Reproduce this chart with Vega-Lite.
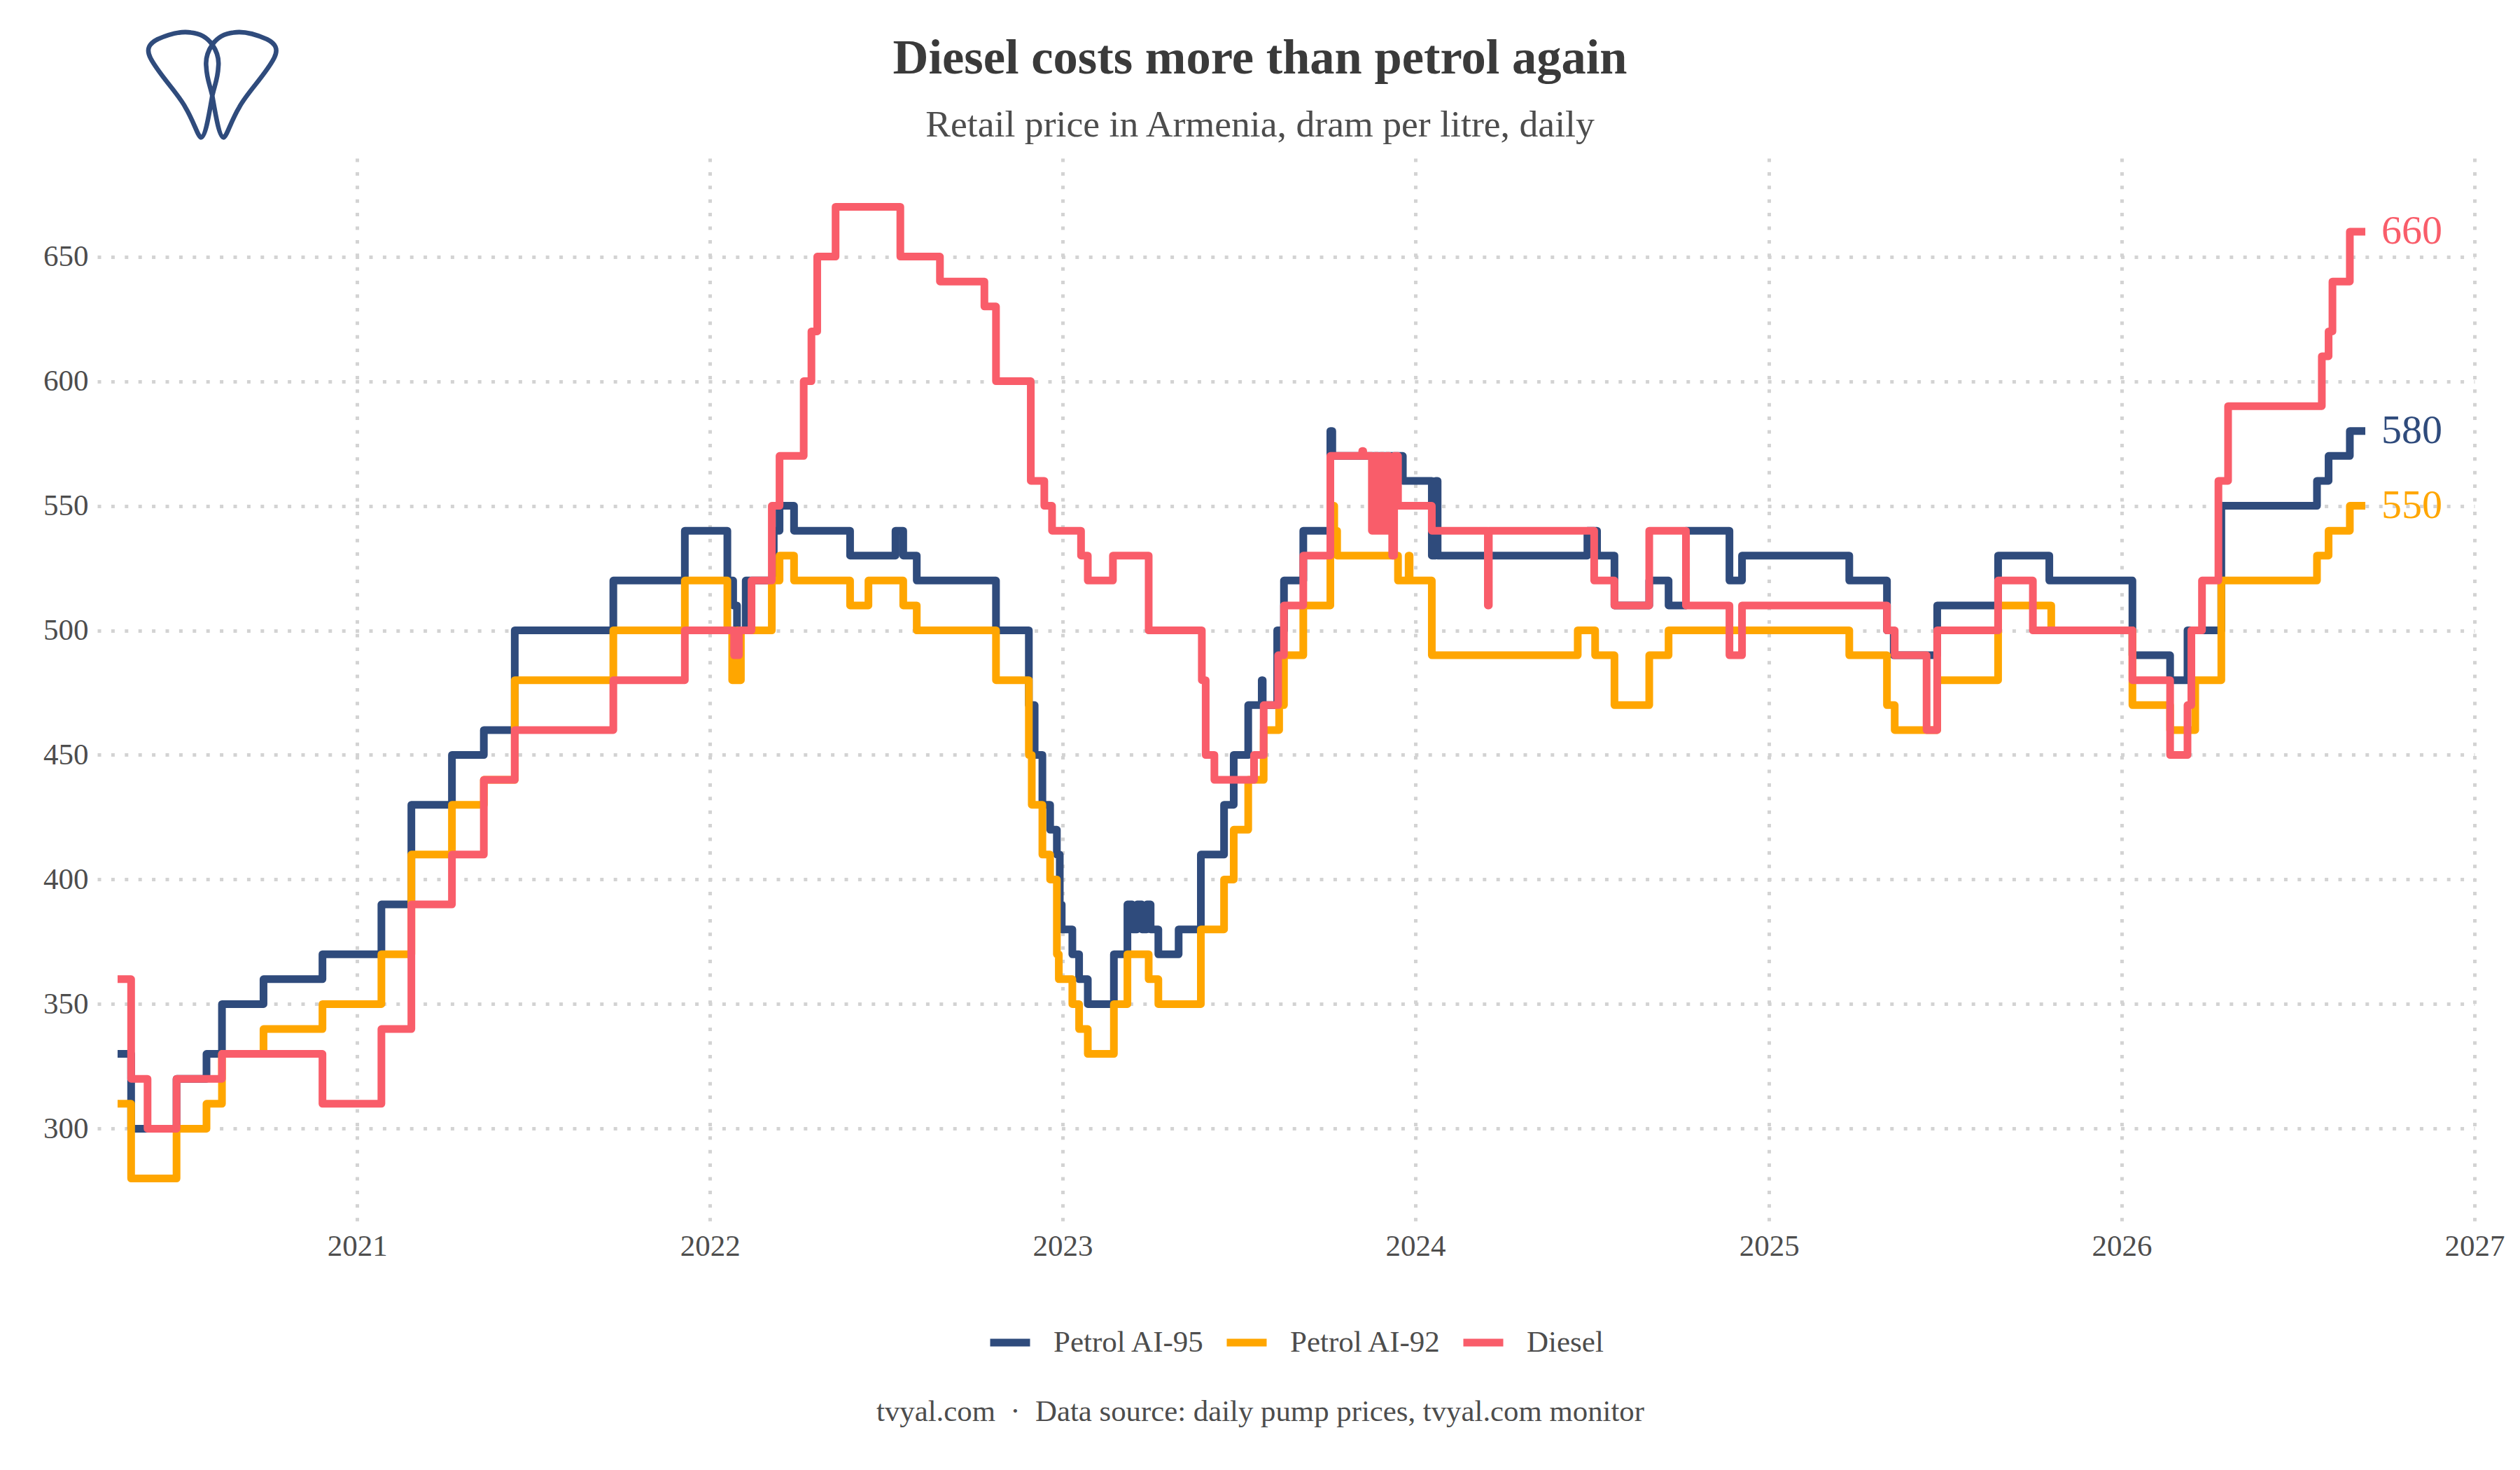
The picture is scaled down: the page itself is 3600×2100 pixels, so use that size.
{
  "$schema": "https://vega.github.io/schema/vega-lite/v6.json",
  "autosize": "none",
  "width": 3396,
  "height": 1527,
  "padding": {"left": 139, "top": 226, "right": 65, "bottom": 347},
  "background": "white",
  "title": {
    "text": "Diesel costs more than petrol again",
    "subtitle": "Retail price in Armenia, dram per litre, daily",
    "anchor": "middle",
    "frame": "group",
    "dx": -37,
    "offset": -173,
    "font": "Liberation Serif",
    "fontSize": 70.5,
    "fontWeight": "bold",
    "color": "#3a3a3a",
    "subtitleFont": "Liberation Serif",
    "subtitleFontSize": 53.7,
    "subtitleColor": "#4d4d4d",
    "subtitlePadding": 33
  },
  "config": {
    "view": {"stroke": null},
    "axis": {
      "domain": false,
      "ticks": false,
      "grid": true,
      "gridColor": "#d3d3d3",
      "gridWidth": 5,
      "gridDash": [5, 14.4],
      "labelFont": "Liberation Serif",
      "labelFontSize": 43,
      "labelColor": "#4d4d4d"
    }
  },
  "data": {
    "values": [
      {"date": "2020-04-28", "fuel": "Petrol AI-95", "price": 330},
      {"date": "2020-05-12", "fuel": "Petrol AI-95", "price": 300},
      {"date": "2020-06-28", "fuel": "Petrol AI-95", "price": 320},
      {"date": "2020-07-29", "fuel": "Petrol AI-95", "price": 330},
      {"date": "2020-08-14", "fuel": "Petrol AI-95", "price": 350},
      {"date": "2020-09-26", "fuel": "Petrol AI-95", "price": 360},
      {"date": "2020-11-26", "fuel": "Petrol AI-95", "price": 370},
      {"date": "2021-01-26", "fuel": "Petrol AI-95", "price": 390},
      {"date": "2021-02-26", "fuel": "Petrol AI-95", "price": 430},
      {"date": "2021-04-09", "fuel": "Petrol AI-95", "price": 450},
      {"date": "2021-05-12", "fuel": "Petrol AI-95", "price": 460},
      {"date": "2021-06-13", "fuel": "Petrol AI-95", "price": 500},
      {"date": "2021-09-23", "fuel": "Petrol AI-95", "price": 520},
      {"date": "2021-12-06", "fuel": "Petrol AI-95", "price": 540},
      {"date": "2022-01-19", "fuel": "Petrol AI-95", "price": 520},
      {"date": "2022-01-25", "fuel": "Petrol AI-95", "price": 510},
      {"date": "2022-01-29", "fuel": "Petrol AI-95", "price": 500},
      {"date": "2022-02-07", "fuel": "Petrol AI-95", "price": 520},
      {"date": "2022-03-08", "fuel": "Petrol AI-95", "price": 540},
      {"date": "2022-03-14", "fuel": "Petrol AI-95", "price": 550},
      {"date": "2022-03-29", "fuel": "Petrol AI-95", "price": 540},
      {"date": "2022-05-26", "fuel": "Petrol AI-95", "price": 530},
      {"date": "2022-07-12", "fuel": "Petrol AI-95", "price": 540},
      {"date": "2022-07-20", "fuel": "Petrol AI-95", "price": 530},
      {"date": "2022-08-03", "fuel": "Petrol AI-95", "price": 520},
      {"date": "2022-10-24", "fuel": "Petrol AI-95", "price": 500},
      {"date": "2022-11-27", "fuel": "Petrol AI-95", "price": 470},
      {"date": "2022-12-03", "fuel": "Petrol AI-95", "price": 450},
      {"date": "2022-12-11", "fuel": "Petrol AI-95", "price": 430},
      {"date": "2022-12-19", "fuel": "Petrol AI-95", "price": 420},
      {"date": "2022-12-26", "fuel": "Petrol AI-95", "price": 410},
      {"date": "2022-12-29", "fuel": "Petrol AI-95", "price": 390},
      {"date": "2022-12-31", "fuel": "Petrol AI-95", "price": 380},
      {"date": "2023-01-11", "fuel": "Petrol AI-95", "price": 370},
      {"date": "2023-01-18", "fuel": "Petrol AI-95", "price": 360},
      {"date": "2023-01-27", "fuel": "Petrol AI-95", "price": 350},
      {"date": "2023-02-23", "fuel": "Petrol AI-95", "price": 370},
      {"date": "2023-03-09", "fuel": "Petrol AI-95", "price": 390},
      {"date": "2023-03-14", "fuel": "Petrol AI-95", "price": 380},
      {"date": "2023-03-19", "fuel": "Petrol AI-95", "price": 390},
      {"date": "2023-03-24", "fuel": "Petrol AI-95", "price": 380},
      {"date": "2023-03-29", "fuel": "Petrol AI-95", "price": 390},
      {"date": "2023-04-02", "fuel": "Petrol AI-95", "price": 380},
      {"date": "2023-04-10", "fuel": "Petrol AI-95", "price": 370},
      {"date": "2023-05-01", "fuel": "Petrol AI-95", "price": 380},
      {"date": "2023-05-24", "fuel": "Petrol AI-95", "price": 410},
      {"date": "2023-06-17", "fuel": "Petrol AI-95", "price": 430},
      {"date": "2023-06-27", "fuel": "Petrol AI-95", "price": 450},
      {"date": "2023-07-12", "fuel": "Petrol AI-95", "price": 470},
      {"date": "2023-07-26", "fuel": "Petrol AI-95", "price": 480},
      {"date": "2023-07-27", "fuel": "Petrol AI-95", "price": 470},
      {"date": "2023-08-11", "fuel": "Petrol AI-95", "price": 500},
      {"date": "2023-08-18", "fuel": "Petrol AI-95", "price": 520},
      {"date": "2023-09-07", "fuel": "Petrol AI-95", "price": 540},
      {"date": "2023-10-05", "fuel": "Petrol AI-95", "price": 580},
      {"date": "2023-10-07", "fuel": "Petrol AI-95", "price": 570},
      {"date": "2023-12-19", "fuel": "Petrol AI-95", "price": 560},
      {"date": "2024-01-18", "fuel": "Petrol AI-95", "price": 530},
      {"date": "2024-01-22", "fuel": "Petrol AI-95", "price": 560},
      {"date": "2024-01-24", "fuel": "Petrol AI-95", "price": 530},
      {"date": "2024-06-27", "fuel": "Petrol AI-95", "price": 540},
      {"date": "2024-07-07", "fuel": "Petrol AI-95", "price": 530},
      {"date": "2024-07-25", "fuel": "Petrol AI-95", "price": 510},
      {"date": "2024-08-30", "fuel": "Petrol AI-95", "price": 520},
      {"date": "2024-09-19", "fuel": "Petrol AI-95", "price": 510},
      {"date": "2024-10-07", "fuel": "Petrol AI-95", "price": 540},
      {"date": "2024-11-21", "fuel": "Petrol AI-95", "price": 520},
      {"date": "2024-12-04", "fuel": "Petrol AI-95", "price": 530},
      {"date": "2025-03-25", "fuel": "Petrol AI-95", "price": 520},
      {"date": "2025-05-03", "fuel": "Petrol AI-95", "price": 500},
      {"date": "2025-05-10", "fuel": "Petrol AI-95", "price": 490},
      {"date": "2025-06-24", "fuel": "Petrol AI-95", "price": 510},
      {"date": "2025-08-26", "fuel": "Petrol AI-95", "price": 530},
      {"date": "2025-10-18", "fuel": "Petrol AI-95", "price": 520},
      {"date": "2026-01-12", "fuel": "Petrol AI-95", "price": 490},
      {"date": "2026-02-20", "fuel": "Petrol AI-95", "price": 480},
      {"date": "2026-03-10", "fuel": "Petrol AI-95", "price": 500},
      {"date": "2026-04-14", "fuel": "Petrol AI-95", "price": 550},
      {"date": "2026-07-22", "fuel": "Petrol AI-95", "price": 560},
      {"date": "2026-08-03", "fuel": "Petrol AI-95", "price": 570},
      {"date": "2026-08-25", "fuel": "Petrol AI-95", "price": 580},
      {"date": "2026-09-10", "fuel": "Petrol AI-95", "price": 580},

      {"date": "2020-04-28", "fuel": "Petrol AI-92", "price": 310},
      {"date": "2020-05-12", "fuel": "Petrol AI-92", "price": 280},
      {"date": "2020-06-28", "fuel": "Petrol AI-92", "price": 300},
      {"date": "2020-07-29", "fuel": "Petrol AI-92", "price": 310},
      {"date": "2020-08-14", "fuel": "Petrol AI-92", "price": 330},
      {"date": "2020-09-26", "fuel": "Petrol AI-92", "price": 340},
      {"date": "2020-11-26", "fuel": "Petrol AI-92", "price": 350},
      {"date": "2021-01-26", "fuel": "Petrol AI-92", "price": 370},
      {"date": "2021-02-26", "fuel": "Petrol AI-92", "price": 410},
      {"date": "2021-04-09", "fuel": "Petrol AI-92", "price": 430},
      {"date": "2021-05-12", "fuel": "Petrol AI-92", "price": 440},
      {"date": "2021-06-13", "fuel": "Petrol AI-92", "price": 480},
      {"date": "2021-09-23", "fuel": "Petrol AI-92", "price": 500},
      {"date": "2021-12-06", "fuel": "Petrol AI-92", "price": 520},
      {"date": "2022-01-19", "fuel": "Petrol AI-92", "price": 500},
      {"date": "2022-01-24", "fuel": "Petrol AI-92", "price": 480},
      {"date": "2022-01-29", "fuel": "Petrol AI-92", "price": 500},
      {"date": "2022-01-30", "fuel": "Petrol AI-92", "price": 480},
      {"date": "2022-02-02", "fuel": "Petrol AI-92", "price": 500},
      {"date": "2022-03-06", "fuel": "Petrol AI-92", "price": 520},
      {"date": "2022-03-14", "fuel": "Petrol AI-92", "price": 530},
      {"date": "2022-03-29", "fuel": "Petrol AI-92", "price": 520},
      {"date": "2022-05-26", "fuel": "Petrol AI-92", "price": 510},
      {"date": "2022-06-14", "fuel": "Petrol AI-92", "price": 520},
      {"date": "2022-07-20", "fuel": "Petrol AI-92", "price": 510},
      {"date": "2022-08-03", "fuel": "Petrol AI-92", "price": 500},
      {"date": "2022-10-24", "fuel": "Petrol AI-92", "price": 480},
      {"date": "2022-11-27", "fuel": "Petrol AI-92", "price": 450},
      {"date": "2022-11-30", "fuel": "Petrol AI-92", "price": 430},
      {"date": "2022-12-11", "fuel": "Petrol AI-92", "price": 410},
      {"date": "2022-12-19", "fuel": "Petrol AI-92", "price": 400},
      {"date": "2022-12-26", "fuel": "Petrol AI-92", "price": 370},
      {"date": "2022-12-28", "fuel": "Petrol AI-92", "price": 360},
      {"date": "2023-01-11", "fuel": "Petrol AI-92", "price": 350},
      {"date": "2023-01-18", "fuel": "Petrol AI-92", "price": 340},
      {"date": "2023-01-27", "fuel": "Petrol AI-92", "price": 330},
      {"date": "2023-02-23", "fuel": "Petrol AI-92", "price": 350},
      {"date": "2023-03-09", "fuel": "Petrol AI-92", "price": 370},
      {"date": "2023-03-31", "fuel": "Petrol AI-92", "price": 360},
      {"date": "2023-04-10", "fuel": "Petrol AI-92", "price": 350},
      {"date": "2023-05-24", "fuel": "Petrol AI-92", "price": 380},
      {"date": "2023-06-17", "fuel": "Petrol AI-92", "price": 400},
      {"date": "2023-06-27", "fuel": "Petrol AI-92", "price": 420},
      {"date": "2023-07-12", "fuel": "Petrol AI-92", "price": 440},
      {"date": "2023-07-28", "fuel": "Petrol AI-92", "price": 460},
      {"date": "2023-08-13", "fuel": "Petrol AI-92", "price": 470},
      {"date": "2023-08-18", "fuel": "Petrol AI-92", "price": 490},
      {"date": "2023-09-07", "fuel": "Petrol AI-92", "price": 510},
      {"date": "2023-10-05", "fuel": "Petrol AI-92", "price": 550},
      {"date": "2023-10-09", "fuel": "Petrol AI-92", "price": 540},
      {"date": "2023-10-12", "fuel": "Petrol AI-92", "price": 530},
      {"date": "2023-12-14", "fuel": "Petrol AI-92", "price": 520},
      {"date": "2023-12-25", "fuel": "Petrol AI-92", "price": 530},
      {"date": "2023-12-26", "fuel": "Petrol AI-92", "price": 520},
      {"date": "2024-01-18", "fuel": "Petrol AI-92", "price": 490},
      {"date": "2024-06-17", "fuel": "Petrol AI-92", "price": 500},
      {"date": "2024-07-05", "fuel": "Petrol AI-92", "price": 490},
      {"date": "2024-07-25", "fuel": "Petrol AI-92", "price": 470},
      {"date": "2024-08-30", "fuel": "Petrol AI-92", "price": 490},
      {"date": "2024-09-19", "fuel": "Petrol AI-92", "price": 500},
      {"date": "2025-03-25", "fuel": "Petrol AI-92", "price": 490},
      {"date": "2025-05-03", "fuel": "Petrol AI-92", "price": 470},
      {"date": "2025-05-11", "fuel": "Petrol AI-92", "price": 460},
      {"date": "2025-06-24", "fuel": "Petrol AI-92", "price": 480},
      {"date": "2025-08-26", "fuel": "Petrol AI-92", "price": 510},
      {"date": "2025-10-20", "fuel": "Petrol AI-92", "price": 500},
      {"date": "2026-01-12", "fuel": "Petrol AI-92", "price": 470},
      {"date": "2026-02-20", "fuel": "Petrol AI-92", "price": 460},
      {"date": "2026-03-18", "fuel": "Petrol AI-92", "price": 480},
      {"date": "2026-04-14", "fuel": "Petrol AI-92", "price": 520},
      {"date": "2026-07-22", "fuel": "Petrol AI-92", "price": 530},
      {"date": "2026-08-03", "fuel": "Petrol AI-92", "price": 540},
      {"date": "2026-08-25", "fuel": "Petrol AI-92", "price": 550},
      {"date": "2026-09-10", "fuel": "Petrol AI-92", "price": 550},

      {"date": "2020-04-28", "fuel": "Diesel", "price": 360},
      {"date": "2020-05-12", "fuel": "Diesel", "price": 320},
      {"date": "2020-05-29", "fuel": "Diesel", "price": 300},
      {"date": "2020-06-28", "fuel": "Diesel", "price": 320},
      {"date": "2020-08-14", "fuel": "Diesel", "price": 330},
      {"date": "2020-11-26", "fuel": "Diesel", "price": 310},
      {"date": "2021-01-26", "fuel": "Diesel", "price": 340},
      {"date": "2021-02-26", "fuel": "Diesel", "price": 390},
      {"date": "2021-04-09", "fuel": "Diesel", "price": 410},
      {"date": "2021-05-12", "fuel": "Diesel", "price": 440},
      {"date": "2021-06-13", "fuel": "Diesel", "price": 460},
      {"date": "2021-09-23", "fuel": "Diesel", "price": 480},
      {"date": "2021-12-06", "fuel": "Diesel", "price": 500},
      {"date": "2022-01-26", "fuel": "Diesel", "price": 490},
      {"date": "2022-01-31", "fuel": "Diesel", "price": 500},
      {"date": "2022-02-13", "fuel": "Diesel", "price": 520},
      {"date": "2022-03-06", "fuel": "Diesel", "price": 550},
      {"date": "2022-03-14", "fuel": "Diesel", "price": 570},
      {"date": "2022-04-08", "fuel": "Diesel", "price": 600},
      {"date": "2022-04-16", "fuel": "Diesel", "price": 620},
      {"date": "2022-04-22", "fuel": "Diesel", "price": 650},
      {"date": "2022-05-11", "fuel": "Diesel", "price": 670},
      {"date": "2022-07-17", "fuel": "Diesel", "price": 650},
      {"date": "2022-08-27", "fuel": "Diesel", "price": 640},
      {"date": "2022-10-12", "fuel": "Diesel", "price": 630},
      {"date": "2022-10-24", "fuel": "Diesel", "price": 600},
      {"date": "2022-11-29", "fuel": "Diesel", "price": 560},
      {"date": "2022-12-13", "fuel": "Diesel", "price": 550},
      {"date": "2022-12-21", "fuel": "Diesel", "price": 540},
      {"date": "2023-01-20", "fuel": "Diesel", "price": 530},
      {"date": "2023-01-27", "fuel": "Diesel", "price": 520},
      {"date": "2023-02-22", "fuel": "Diesel", "price": 530},
      {"date": "2023-03-31", "fuel": "Diesel", "price": 500},
      {"date": "2023-05-25", "fuel": "Diesel", "price": 480},
      {"date": "2023-05-29", "fuel": "Diesel", "price": 450},
      {"date": "2023-06-07", "fuel": "Diesel", "price": 440},
      {"date": "2023-07-18", "fuel": "Diesel", "price": 450},
      {"date": "2023-07-28", "fuel": "Diesel", "price": 470},
      {"date": "2023-08-12", "fuel": "Diesel", "price": 490},
      {"date": "2023-08-18", "fuel": "Diesel", "price": 510},
      {"date": "2023-09-07", "fuel": "Diesel", "price": 530},
      {"date": "2023-10-05", "fuel": "Diesel", "price": 570},
      {"date": "2023-11-07", "fuel": "Diesel", "price": 572},
      {"date": "2023-11-08", "fuel": "Diesel", "price": 570},
      {"date": "2023-11-17", "fuel": "Diesel", "price": 540},
      {"date": "2023-11-20", "fuel": "Diesel", "price": 570},
      {"date": "2023-11-23", "fuel": "Diesel", "price": 540},
      {"date": "2023-11-26", "fuel": "Diesel", "price": 570},
      {"date": "2023-11-29", "fuel": "Diesel", "price": 540},
      {"date": "2023-12-02", "fuel": "Diesel", "price": 570},
      {"date": "2023-12-05", "fuel": "Diesel", "price": 540},
      {"date": "2023-12-08", "fuel": "Diesel", "price": 530},
      {"date": "2023-12-10", "fuel": "Diesel", "price": 570},
      {"date": "2023-12-14", "fuel": "Diesel", "price": 550},
      {"date": "2024-01-18", "fuel": "Diesel", "price": 540},
      {"date": "2024-03-16", "fuel": "Diesel", "price": 510},
      {"date": "2024-03-17", "fuel": "Diesel", "price": 540},
      {"date": "2024-07-04", "fuel": "Diesel", "price": 520},
      {"date": "2024-07-25", "fuel": "Diesel", "price": 510},
      {"date": "2024-08-30", "fuel": "Diesel", "price": 540},
      {"date": "2024-10-07", "fuel": "Diesel", "price": 510},
      {"date": "2024-11-21", "fuel": "Diesel", "price": 490},
      {"date": "2024-12-04", "fuel": "Diesel", "price": 510},
      {"date": "2025-05-03", "fuel": "Diesel", "price": 500},
      {"date": "2025-05-11", "fuel": "Diesel", "price": 490},
      {"date": "2025-06-13", "fuel": "Diesel", "price": 460},
      {"date": "2025-06-24", "fuel": "Diesel", "price": 500},
      {"date": "2025-08-26", "fuel": "Diesel", "price": 520},
      {"date": "2025-10-01", "fuel": "Diesel", "price": 500},
      {"date": "2026-01-12", "fuel": "Diesel", "price": 480},
      {"date": "2026-02-20", "fuel": "Diesel", "price": 450},
      {"date": "2026-03-10", "fuel": "Diesel", "price": 470},
      {"date": "2026-03-14", "fuel": "Diesel", "price": 500},
      {"date": "2026-03-25", "fuel": "Diesel", "price": 520},
      {"date": "2026-04-11", "fuel": "Diesel", "price": 560},
      {"date": "2026-04-21", "fuel": "Diesel", "price": 590},
      {"date": "2026-07-27", "fuel": "Diesel", "price": 610},
      {"date": "2026-08-03", "fuel": "Diesel", "price": 620},
      {"date": "2026-08-07", "fuel": "Diesel", "price": 640},
      {"date": "2026-08-25", "fuel": "Diesel", "price": 660},
      {"date": "2026-09-10", "fuel": "Diesel", "price": 660}
    ]
  },
  "encoding": {
    "x": {
      "field": "date",
      "type": "temporal",
      "scale": {"domain": ["2020-04-07", "2027-01-01"]},
      "axis": {
        "tickCount": {"interval": "year", "step": 1},
        "format": "%Y",
        "labelPadding": 6,
        "labelFlush": false,
        "title": "tvyal.com\u00a0\u00a0·\u00a0\u00a0Data source: daily pump prices, tvyal.com monitor",
        "titleFont": "Liberation Serif",
        "titleFontSize": 42.8,
        "titleFontWeight": "normal",
        "titleColor": "#4d4d4d",
        "titleX": 1661,
        "titleY": 263,
        "titleBaseline": "middle",
        "titleAnchor": "middle"
      }
    },
    "y": {
      "field": "price",
      "type": "quantitative",
      "scale": {"domain": [260.5, 689.5], "nice": false, "zero": false},
      "axis": {
        "values": [300, 350, 400, 450, 500, 550, 600, 650],
        "labelPadding": 13,
        "title": null
      }
    }
  },
  "layer": [
    {
      "mark": {
        "type": "line",
        "interpolate": "step-after",
        "strokeWidth": 11,
        "strokeJoin": "round",
        "strokeCap": "butt"
      },
      "encoding": {
        "color": {
          "field": "fuel",
          "type": "nominal",
          "scale": {
            "domain": ["Petrol AI-95", "Petrol AI-92", "Diesel"],
            "range": ["#2f4b7c", "#ffa600", "#f95d6a"]
          },
          "legend": {
            "orient": "none",
            "direction": "horizontal",
            "legendX": 1270,
            "legendY": 1658,
            "title": null,
            "symbolType": "stroke",
            "symbolSize": 3249,
            "symbolStrokeWidth": 11,
            "labelFont": "Liberation Serif",
            "labelFontSize": 43,
            "labelColor": "#4d4d4d",
            "labelOffset": 28,
            "labelLimit": 500,
            "columnPadding": 8
          }
        }
      }
    },
    {
      "data": {
        "values": [
          {"date": "2026-09-10", "fuel": "Petrol AI-95", "price": 580},
          {"date": "2026-09-10", "fuel": "Petrol AI-92", "price": 550},
          {"date": "2026-09-10", "fuel": "Diesel", "price": 660}
        ]
      },
      "mark": {
        "type": "text",
        "align": "left",
        "baseline": "middle",
        "dx": 23,
        "font": "Liberation Serif",
        "fontSize": 58
      },
      "encoding": {
        "text": {"field": "price", "type": "quantitative"},
        "color": {"field": "fuel", "type": "nominal", "legend": null}
      }
    },
    {
      "data": {"values": [{"date": "2020-08-04", "price": 719.3}]},
      "mark": {
        "type": "point",
        "shape": "M-0.163 0.764C-0.2 0.764 -0.27 0.52 -0.387 0.33C-0.5 0.12 -0.76 -0.13 -0.884 -0.371C-0.95 -0.5 -0.9 -0.58 -0.78 -0.64C-0.62 -0.71 -0.45 -0.76 -0.304 -0.734C-0.16 -0.72 -0.07 -0.66 0 -0.562C0.07 -0.46 0.1 -0.36 0.086 -0.243C0.08 -0.08 0.03 0.03 0 0.17C-0.05 0.46 -0.1 0.764 -0.163 0.764ZM0.163 0.764C0.2 0.764 0.27 0.52 0.387 0.33C0.5 0.12 0.76 -0.13 0.884 -0.371C0.95 -0.5 0.9 -0.58 0.78 -0.64C0.62 -0.71 0.45 -0.76 0.304 -0.734C0.16 -0.72 0.07 -0.66 0 -0.562C-0.07 -0.46 -0.1 -0.36 -0.086 -0.243C-0.08 -0.08 -0.03 0.03 0 0.17C0.05 0.46 0.1 0.764 0.163 0.764Z",
        "size": 40000,
        "filled": false,
        "stroke": "#2f4b7c",
        "strokeWidth": 6.6,
        "opacity": 1
      }
    }
  ]
}
